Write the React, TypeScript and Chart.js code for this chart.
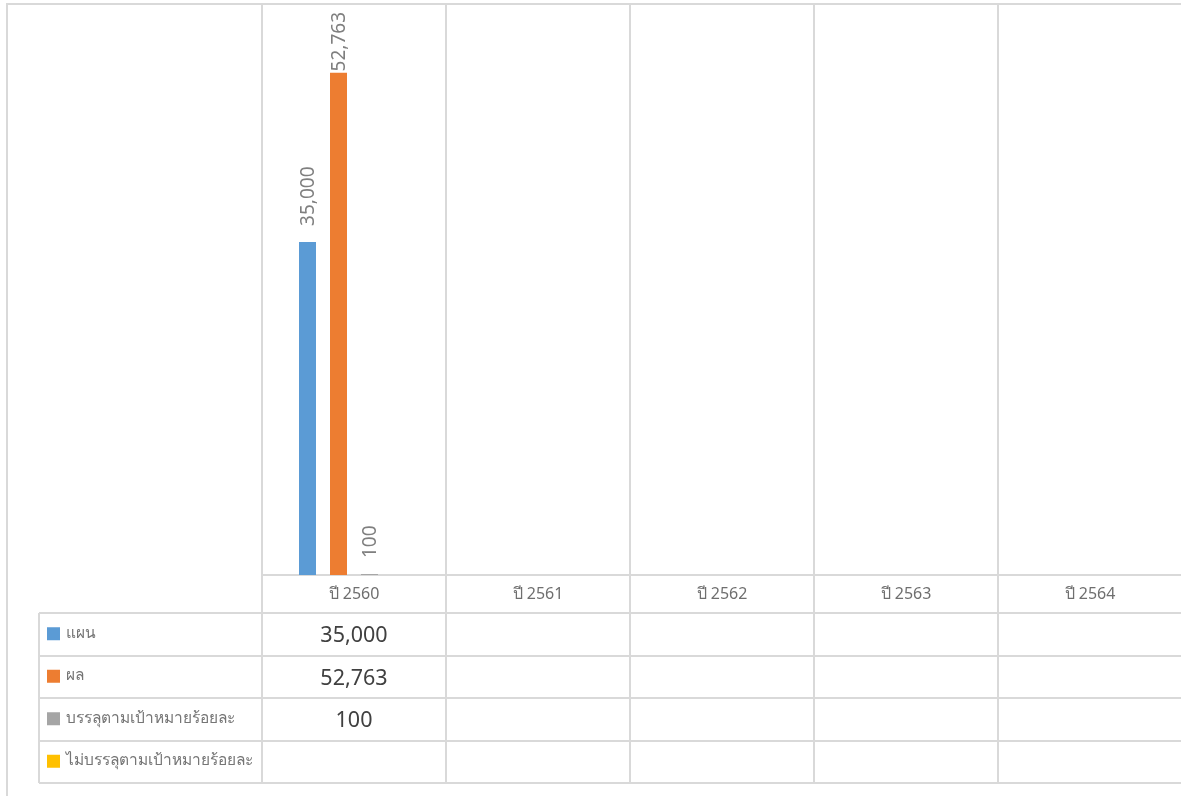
import React, { useEffect, useRef } from "react";
import { Chart, registerables } from "chart.js";

Chart.register(...registerables);

const categories = ["ปี 2560", "ปี 2561", "ปี 2562", "ปี 2563", "ปี 2564"];
const seriesNames = ["แผน", "ผล", "บรรลุตามเป้าหมายร้อยละ", "ไม่บรรลุตามเป้าหมายร้อยละ"];
const planValues = [35000, null, null, null, null];
const resultValues = [52763, null, null, null, null];
const achievedValues = [100, null, null, null, null];
const notAchievedValues = [null, null, null, null, null];
const seriesColors = ["#5b9bd5", "#ed7d31", "#a5a5a5", "#ffc000"];

const FONT = "'Noto Sans', 'Open Sans', sans-serif";
const GRID = "#d9d9d9";

const fmt = (v: number) => v.toLocaleString("en-US");

const decorPlugin = {
  id: "decor",
  beforeDatasetsDraw(chart: any) {
    const { ctx, chartArea } = chart;
    const x = chart.scales.x;
    const n = categories.length;
    const half = (x.getPixelForValue(1) - x.getPixelForValue(0)) / 2;
    const rowTop = chartArea.bottom + 38;
    const rowH = 42.5;
    const tableBottom = rowTop + rowH * seriesNames.length;
    ctx.save();
    ctx.strokeStyle = GRID;
    ctx.lineWidth = 2;
    // outer border
    ctx.beginPath();
    ctx.moveTo(7, chart.height + 5);
    ctx.lineTo(7, chartArea.top);
    ctx.lineTo(chart.width, chartArea.top);
    ctx.stroke();
    // vertical category boundaries
    for (let i = 0; i <= n; i++) {
      const px = Math.round(x.getPixelForValue(0) - half + i * 2 * half);
      ctx.beginPath();
      ctx.moveTo(px, chartArea.top);
      ctx.lineTo(px, tableBottom);
      ctx.stroke();
    }
    // axis line
    ctx.beginPath();
    ctx.moveTo(chartArea.left, chartArea.bottom);
    ctx.lineTo(chart.width, chartArea.bottom);
    ctx.stroke();
    // table rows
    for (let r = 0; r <= seriesNames.length; r++) {
      const y = Math.round(rowTop + r * rowH);
      ctx.beginPath();
      ctx.moveTo(39, y);
      ctx.lineTo(chart.width, y);
      ctx.stroke();
    }
    ctx.beginPath();
    ctx.moveTo(39, rowTop);
    ctx.lineTo(39, tableBottom);
    ctx.stroke();

    // category labels
    ctx.fillStyle = "#6f6f6f";
    ctx.font = `16px ${FONT}`;
    ctx.textAlign = "center";
    ctx.textBaseline = "middle";
    categories.forEach((c, i) => {
      ctx.fillText(c, x.getPixelForValue(i), chartArea.bottom + 19);
    });

    // legend column and values
    const allValues = [planValues, resultValues, achievedValues, notAchievedValues];
    seriesNames.forEach((name, r) => {
      const cy = rowTop + r * rowH + rowH / 2;
      ctx.fillStyle = seriesColors[r];
      ctx.fillRect(47, cy - 7, 13, 13);
      ctx.fillStyle = "#757575";
      ctx.font = `15.5px ${FONT}`;
      ctx.textAlign = "left";
      ctx.fillText(name, 66, cy - 1);
      ctx.fillStyle = "#404040";
      ctx.font = `21.5px ${FONT}`;
      ctx.textAlign = "center";
      allValues[r].forEach((v, i) => {
        if (v !== null) ctx.fillText(fmt(v as number), x.getPixelForValue(i), cy + 2);
      });
    });
    ctx.restore();
  },
  afterDatasetsDraw(chart: any) {
    const { ctx, chartArea } = chart;
    ctx.save();
    ctx.fillStyle = "#7f7f7f";
    ctx.font = `19px ${FONT}`;
    ctx.textBaseline = "middle";
    ctx.textAlign = "left";
    chart.data.datasets.forEach((ds: any, di: number) => {
      const meta = chart.getDatasetMeta(di);
      meta.data.forEach((bar: any, i: number) => {
        const v = ds.data[i];
        if (v === null || v === undefined) return;
        const text = fmt(v);
        const w = ctx.measureText(text).width;
        let start = bar.y - 16;
        if (start - w < chartArea.top + 8) start = chartArea.top + 8 + w;
        ctx.save();
        ctx.translate(bar.x + 1, start);
        ctx.rotate(-Math.PI / 2);
        ctx.fillText(text, 0, 0);
        ctx.restore();
      });
    });
    ctx.restore();
  },
};

export default function App() {
  const ref = useRef<HTMLCanvasElement | null>(null);
  useEffect(() => {
    if (!ref.current) return;
    const all = [planValues, resultValues, achievedValues, notAchievedValues];
    const chart = new Chart(ref.current, {
      type: "bar",
      data: {
        labels: categories,
        datasets: seriesNames.map((name, i) => ({
          label: name,
          data: all[i],
          backgroundColor: seriesColors[i],
          categoryPercentage: 124 / 184,
          barPercentage: 17 / 31,
        })),
      },
      options: {
        responsive: false,
        animation: false,
        layout: { padding: { left: 262, top: 4, right: 18, bottom: 221 } },
        plugins: { legend: { display: false }, tooltip: { enabled: false } },
        scales: {
          x: { display: false },
          y: { display: false, min: 0, max: 60000 },
        },
      },
      plugins: [decorPlugin],
    });
    return () => chart.destroy();
  }, []);
  return (
    <div style={{ position: "absolute", left: 0, top: 0, width: 1181, height: 796, overflow: "hidden", background: "#fff" }}>
      <canvas ref={ref} width={1200} height={796} style={{ width: 1200, height: 796 }} />
    </div>
  );
}
